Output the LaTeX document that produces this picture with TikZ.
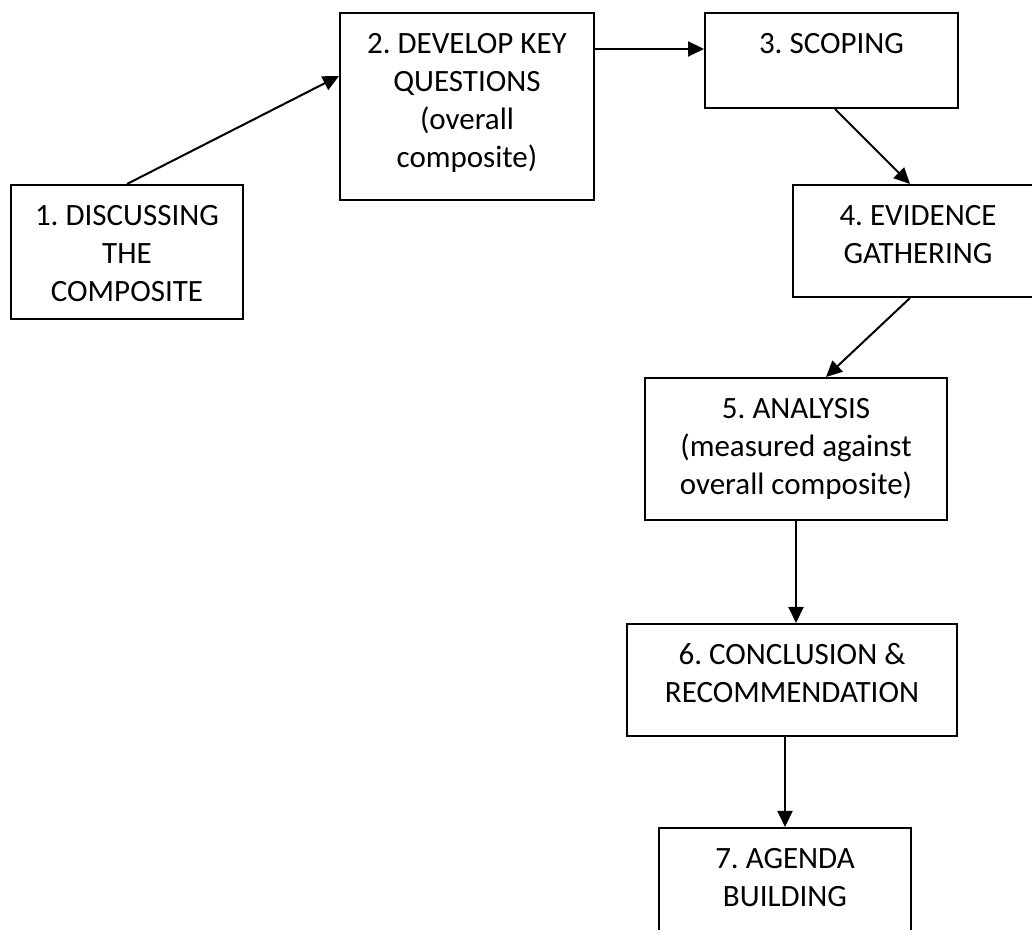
\documentclass[tikz,border=0pt]{standalone}
\usepackage{fontspec}
\setmainfont{Carlito}
\usetikzlibrary{arrows.meta}
\tikzset{every picture/.style={line width=1pt}}
\frenchspacing
\newcommand{\stagetext}[3]{\parbox[c][#2][t]{#1}{\centering\rule{0pt}{20.5pt}#3}}

\begin{document}
\begin{tikzpicture}[x=0.5pt, y=0.5pt, >={Triangle[length=8pt,width=7.5pt]},
    stage/.style={draw, inner sep=0pt, anchor=north west, font=\fontsize{15.5pt}{19pt}\selectfont}]
        \useasboundingbox (0,0) rectangle (1032,930);
        \clip (0,0) rectangle (1032,930);
        \node[stage] (disc)   at (10, 746)  {\stagetext{116pt}{67pt}{1. DISCUSSING\\THE\\COMPOSITE}};
        \node[stage] (dev)    at (339, 918) {\stagetext{127pt}{93.5pt}{2. DEVELOP KEY\\QUESTIONS\\(overall\\composite)}};
        \node[stage] (scope)  at (704, 918) {\stagetext{126.5pt}{47.5pt}{3. SCOPING}};
        \node[stage] (evid)   at (792, 746) {\stagetext{125pt}{56pt}{4. EVIDENCE\\GATHERING}};
        \node[stage] (ana)    at (644, 553) {\stagetext{151pt}{71pt}{5. ANALYSIS\\(measured against\\overall composite)}};
        \node[stage] (concl)  at (626, 307) {\stagetext{165pt}{56pt}{6. CONCLUSION \&\\RECOMMENDATION}};
        \node[stage] (agenda) at (658, 103) {\stagetext{126pt}{60pt}{7. AGENDA\\BUILDING}};
        \draw[->] (disc.north) -- ([yshift=15.25pt]dev.west);
        \draw[->] ([yshift=28.75pt]dev.east) -- ([yshift=28.75pt]dev.east -| scope.west);
        \draw[->] ([xshift=1.75pt]scope.south) -- ([xshift=-4pt]evid.north);
        \draw[->] ([xshift=-4pt]evid.south) -- ([xshift=15pt]ana.north);
        \draw[->] (ana.south) -- (ana.south |- concl.north);
        \draw[->] (concl.south -| agenda.north) -- (agenda.north);
    \end{tikzpicture}
\end{document}
